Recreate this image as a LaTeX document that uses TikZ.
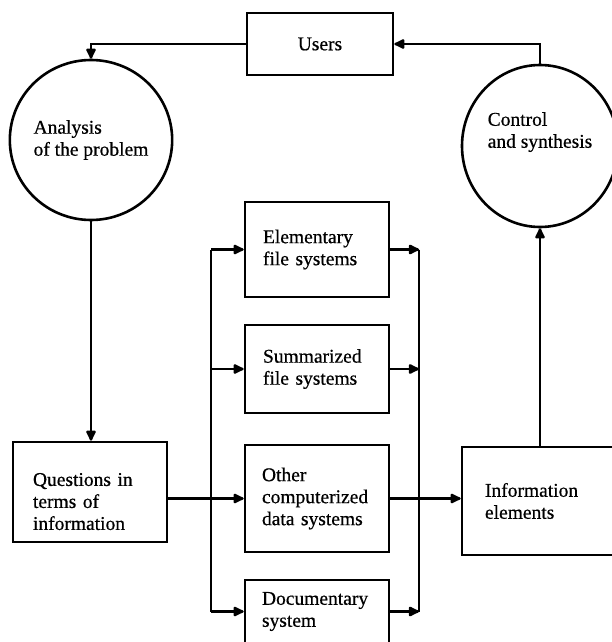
\documentclass[tikz,border=0pt]{standalone}
\usepackage{fontspec}
\setmainfont{Liberation Serif}[FakeBold=0.6]
\usetikzlibrary{shapes.geometric,arrows.meta}
\begin{document}
\begin{tikzpicture}[x=1pt,y=-1pt,
  every node/.style={font=\fontsize{19.5}{22}\selectfont},
  box/.style={draw,line width=2.6pt,rectangle,inner ysep=0pt,align=left,anchor=center},
  circ/.style={draw,line width=2.6pt,ellipse,inner sep=0pt,align=left},
  conn/.style={line width=2.4pt,-{Latex[length=13pt,width=12pt,round]}},
  bus/.style={line width=2.4pt}]
\useasboundingbox (0,0) rectangle (612,642);
% boxes
\node[box,minimum width=146pt,minimum height=62pt] (users) at (320,44) {Users};
\node[box,minimum height=95pt,text width=108pt,inner xsep=18pt] (elem) at (317,249.5) {Elementary\\file systems};
\node[box,minimum height=88pt,text width=108pt,inner xsep=18pt] (summ) at (317,369) {Summarized\\file systems};
\node[box,minimum height=107pt,text width=110pt,inner xsep=17pt] (other) at (317,498.5) {Other\\computerized\\data systems};
\node[box,minimum height=63pt,text width=110pt,inner xsep=17pt] (docu) at (317,611.5) {Documentary\\system};
\node[box,minimum height=100pt,text width=114pt,inner xsep=20pt] (quest) at (90,492) {\rule{0pt}{32pt}Questions in\\terms of\\information};
\node[box,minimum height=108pt,text width=132pt,inner xsep=23pt] (info) at (551,501) {Information\\elements};
% circles
\node[circ,minimum width=152pt,minimum height=160pt] (anal) at (91,140) {Analysis\\of the problem};
\node[circ,minimum width=156pt,minimum height=162pt] (ctrl) at (540,146) {Control\\and synthesis\\[10pt]};
% buses
\coordinate (lbus) at (211,0);
\coordinate (rbus) at (419,0);
\draw[bus] (elem.west -| lbus) -- (docu.west -| lbus);
\draw[bus] (elem.east -| rbus) -- (docu.east -| rbus);
% connectors
\draw[conn] (users.west) -| (anal.north);
\draw[conn] (ctrl.north) |- (users.east);
\draw[conn] (anal.south) -- (anal.south |- quest.north);
\draw[conn] (quest.east |- other.west) -- (other.west);
\draw[conn] (elem.west -| lbus) -- (elem.west);
\draw[conn] (summ.west -| lbus) -- (summ.west);
\draw[conn] (docu.west -| lbus) -- (docu.west);
\draw[conn] (elem.east) -- (elem.east -| rbus);
\draw[conn] (summ.east) -- (summ.east -| rbus);
\draw[conn] (docu.east) -- (docu.east -| rbus);
\draw[conn] (other.east) -- (other.east -| info.west);
\draw[conn] (info.north -| ctrl.south) -- (ctrl.south);
\end{tikzpicture}
\end{document}
